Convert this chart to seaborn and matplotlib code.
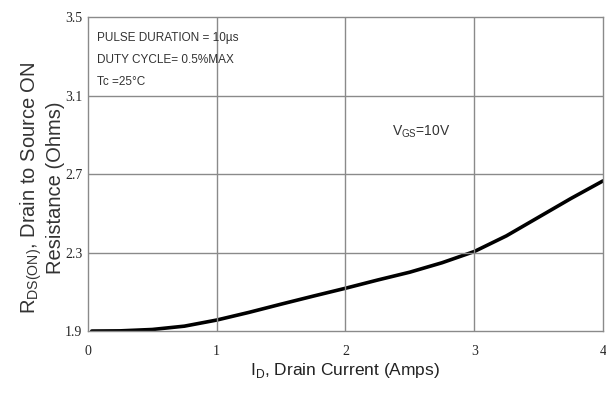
import matplotlib
matplotlib.use("Agg")
import matplotlib.pyplot as plt
import seaborn as sns
import pandas as pd

current = [0.03, 0.25, 0.5, 0.75, 1.0, 1.25, 1.5, 1.75, 2.0, 2.25, 2.5, 2.75, 3.0, 3.25, 3.5, 3.75, 4.0]
resistance = [1.9, 1.901, 1.908, 1.925, 1.956, 1.995, 2.037, 2.078, 2.118, 2.16, 2.2, 2.248,
              2.305, 2.385, 2.48, 2.575, 2.665]
xticks = [0, 1, 2, 3, 4]
yticks = [1.9, 2.3, 2.7, 3.1, 3.5]

sns.set_theme(style="white")
plt.rcParams['font.family'] = ['Liberation Sans', 'DejaVu Sans']
plt.rcParams['mathtext.fontset'] = 'custom'
plt.rcParams['mathtext.rm'] = 'Liberation Sans'

df = pd.DataFrame({"I": current, "R": resistance})

fig = plt.figure(figsize=(6.06, 3.96), dpi=100)
ax = fig.add_axes([0.145, 0.164, 0.85, 0.793])
sns.lineplot(data=df, x="I", y="R", ax=ax, color="black", linewidth=2.6)

ax.set_xlim(0, 4)
ax.set_ylim(1.9, 3.5)
ax.set_xticks(xticks)
ax.set_yticks(yticks)
ax.set_xticklabels([str(t) for t in xticks], family='Liberation Serif', fontsize=10)
ax.set_yticklabels([f"{t:.1f}" for t in yticks], family='Liberation Serif', fontsize=10)
ax.tick_params(axis='x', length=0, pad=10)
ax.tick_params(axis='y', length=4, direction='in', pad=4, color='#888888')
for x in [1, 2, 3]:
    ax.axvline(x, color='#8a8a8a', lw=1.0)
for y in [2.3, 2.7, 3.1]:
    ax.axhline(y, color='#8a8a8a', lw=1.0)
for s in ax.spines.values():
    s.set_color('#8a8a8a')
    s.set_linewidth(1.0)

ax.set_xlabel("I$_{\\mathrm{D}}$, Drain Current (Amps)", fontsize=12.5, color='#222222', labelpad=2)
ax.set_ylabel("R$_{\\mathrm{DS(ON)}}$, Drain to Source ON\nResistance (Ohms)", fontsize=14.5,
              color='#333333', linespacing=1.1)
ax.yaxis.label.set_va('center')
ax.yaxis.set_label_coords(-0.09, 0.455)

ax.text(0.07, 3.392, "PULSE DURATION = 10\u00b5s", fontsize=8.5, color='#333333', va='center')
ax.text(0.07, 3.281, "DUTY CYCLE= 0.5%MAX", fontsize=8.5, color='#333333', va='center')
ax.text(0.07, 3.169, "Tc =25\u00b0C", fontsize=8.5, color='#333333', va='center')
ax.text(2.36, 2.913, "V$_{\\mathrm{GS}}$=10V", fontsize=10, color='#333333', va='center')

fig.savefig("out.png", dpi=100)
